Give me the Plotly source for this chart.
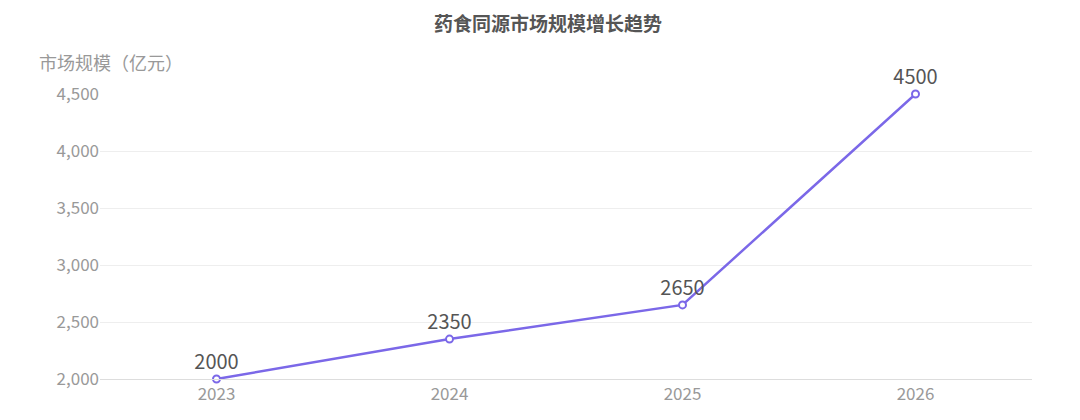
import plotly.graph_objects as go

years = ["2023", "2024", "2025", "2026"]
values = [2000, 2350, 2650, 4500]
tick_vals = [2000, 2500, 3000, 3500, 4000, 4500]
tick_text = ["2,000", "2,500", "3,000", "3,500", "4,000", "4,500"]

font = "Noto Sans CJK SC"
fig = go.Figure(go.Scatter(
    x=years, y=values, mode="lines+markers+text",
    text=[str(v) for v in values], textposition="top center",
    textfont=dict(size=20, color="#555555", family=font),
    line=dict(color="#7b68e8", width=2.5),
    marker=dict(size=7, color="white", line=dict(color="#7b68e8", width=2)),
    cliponaxis=False,
))
fig.update_layout(
    width=1080, height=420, plot_bgcolor="white", paper_bgcolor="white",
    margin=dict(l=92, r=56, t=86, b=49),
    font=dict(family=font),
    title=dict(text="<b>药食同源市场规模增长趋势</b>", x=0.5, xanchor="center", y=0.96,
               yanchor="middle", font=dict(size=19, color="#555555")),
    showlegend=False,
    annotations=[dict(text="市场规模（亿元）", xref="paper", yref="paper", x=-0.068, y=1.06,
                      xanchor="left", yanchor="bottom", showarrow=False,
                      font=dict(size=18, color="#999999"))],
)
fig.update_xaxes(type="category", range=[-0.5, 3.5], showgrid=False, showline=True,
                 linecolor="#dddddd", tickfont=dict(size=17, color="#999999"), ticks="")
fig.update_yaxes(range=[2000, 4500], tickvals=tick_vals, ticktext=tick_text,
                 gridcolor="#eeeeee", zeroline=False,
                 tickfont=dict(size=17, color="#999999"))
fig.write_html("out.html")
